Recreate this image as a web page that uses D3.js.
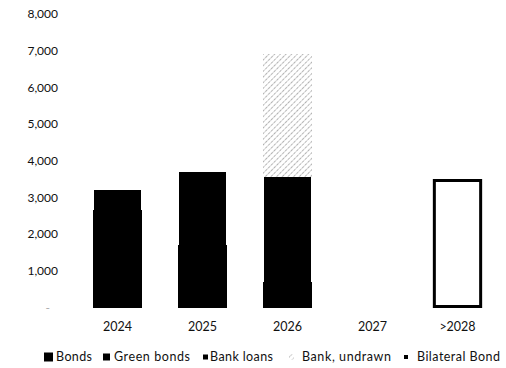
<!DOCTYPE html>
<html>
<head>
<meta charset="utf-8">
<script src="https://cdn.jsdelivr.net/npm/d3@7/dist/d3.min.js"></script>
<style>
  html, body { margin: 0; padding: 0; background: #fff; }
  svg { display: block; font-family: Lato, "Open Sans", sans-serif; }
</style>
</head>
<body>
<svg id="chart" width="506" height="368"></svg>
<script>
// Maturity profile (amounts per year)
const categories = ["2024", "2025", "2026", "2027", ">2028"];
const seriesNames = ["Bonds", "Green bonds", "Bank loans", "Bank, undrawn", "Bilateral Bond"];
const bonds         = [2650, 1700,  700, 0,    0];
const greenBonds    = [ 550, 2000,    0, 0,    0];
const bankLoans     = [   0,    0, 2850, 0,    0];
const bankUndrawn   = [   0,    0, 3350, 0,    0];
const bilateralBond = [   0,    0,    0, 0, 3500];
const yTicks = [0, 1000, 2000, 3000, 4000, 5000, 6000, 7000, 8000];

const seriesValues = [bonds, greenBonds, bankLoans, bankUndrawn, bilateralBond];

const svg = d3.select("#chart");
const defs = svg.append("defs");

// speckled diagonal hatch for undrawn facilities
const hatch = defs.append("pattern")
  .attr("id", "hatch-undrawn")
  .attr("patternUnits", "userSpaceOnUse")
  .attr("width", 4).attr("height", 4)
  .attr("patternTransform", "rotate(45)");
hatch.append("rect").attr("width", 4).attr("height", 4).attr("fill", "#fff");
hatch.append("line")
  .attr("x1", 0).attr("y1", 0).attr("x2", 0).attr("y2", 4)
  .attr("stroke", "#666").attr("stroke-width", 1)
  .attr("stroke-dasharray", "1.5,1");

// per-series look
const fills   = ["#000", "#000", "#000", "url(#hatch-undrawn)", "#fff"];
const strokes = [null, null, null, null, "#000"];
const insets  = [0, 1, 1, 0, 1.5];

const x = d3.scaleBand()
  .domain(categories)
  .range([75, 500])
  .paddingInner(0.42)
  .paddingOuter(0.21);

const y = d3.scaleLinear()
  .domain([0, 8000])
  .range([307.5, 14]);

// stacked layout
const rows = categories.map((c, i) => {
  const r = { cat: c };
  seriesNames.forEach((s, k) => { r[s] = seriesValues[k][i]; });
  return r;
});
const stack = d3.stack().keys(seriesNames)(rows);

// y axis labels (no line, no ticks)
const yAxis = svg.append("g")
  .attr("transform", "translate(62,0)")
  .call(d3.axisLeft(y).tickValues(yTicks).tickSize(0).tickPadding(4)
    .tickFormat(d => d === 0 ? "-" : d3.format(",")(d)));
yAxis.select(".domain").remove();
yAxis.selectAll("text")
  .attr("font-size", 12)
  .attr("font-family", "Lato, sans-serif")
  .attr("fill", "#111");
yAxis.selectAll(".tick").filter(d => d === 0).select("text")
  .attr("dx", -8).attr("fill", "#aaa");

// bars
stack.forEach((layer, k) => {
  const ins = insets[k];
  svg.append("g")
    .attr("shape-rendering", strokes[k] ? null : "crispEdges")
    .selectAll("rect")
    .data(layer.filter(d => d[1] - d[0] > 0))
    .join("rect")
    .attr("x", d => x(d.data.cat) + ins)
    .attr("width", x.bandwidth() - 2 * ins)
    .attr("y", d => Math.round(y(d[1])) + (strokes[k] ? ins : 0))
    .attr("height", d => Math.round(y(d[0])) - Math.round(y(d[1])) - (strokes[k] ? 2 * ins : 0))
    .attr("fill", fills[k])
    .attr("stroke", strokes[k])
    .attr("stroke-width", strokes[k] ? 3 : null);
});

// x axis labels
const xAxis = svg.append("g")
  .attr("transform", "translate(0,318)")
  .call(d3.axisBottom(x).tickSize(0).tickPadding(4));
xAxis.select(".domain").remove();
xAxis.selectAll("text")
  .attr("font-size", 12.5)
  .attr("font-family", "Lato, sans-serif")
  .attr("fill", "#111");

// legend
const markerX    = [44, 103, 203, 289, 404];
const markerSize = [9, 7, 5, 5, 4];
const textX      = [56, 114, 210, 302, 417];
const textW      = [36, 76, 63, 89, 83];
const legend = svg.append("g").attr("transform", "translate(0,357)");
seriesNames.forEach((name, k) => {
  const s = markerSize[k];
  legend.append("rect")
    .attr("x", markerX[k]).attr("y", -s / 2)
    .attr("width", s).attr("height", s)
    .attr("fill", k === 4 ? "#000" : fills[k]);
  legend.append("text")
    .attr("x", textX[k]).attr("dy", "0.35em")
    .attr("font-size", 12.5)
    .attr("textLength", textW[k])
    .attr("lengthAdjust", "spacing")
    .attr("font-family", "Lato, sans-serif")
    .attr("fill", "#111")
    .text(name);
});
</script>
</body>
</html>
